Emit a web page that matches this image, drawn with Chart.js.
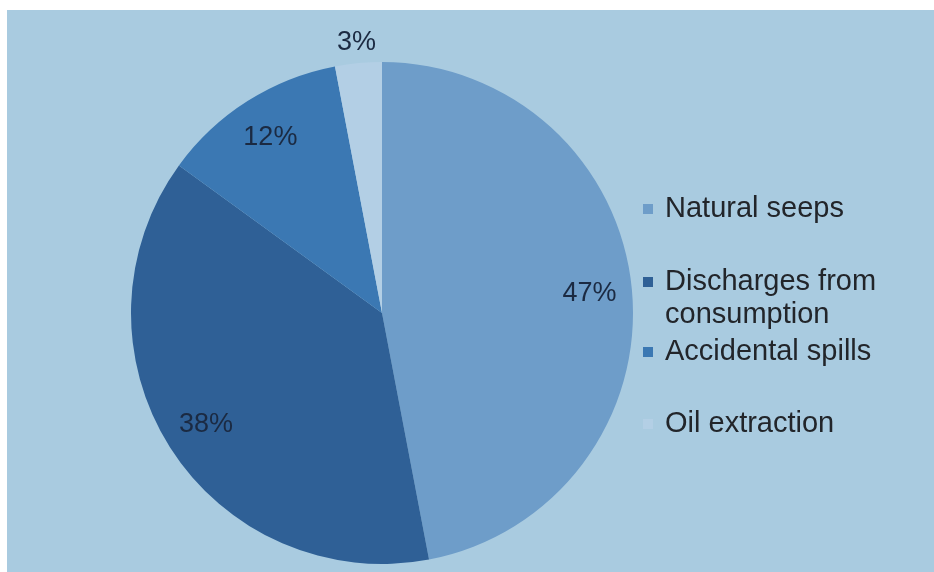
<!DOCTYPE html>
<html>
<head>
<meta charset="utf-8">
<script src="https://cdn.jsdelivr.net/npm/chart.js@4.4.1/dist/chart.umd.min.js"></script>
<style>
  html, body { margin: 0; padding: 0; background: #fff; }
  #wrap { position: relative; width: 934px; height: 572px; }
</style>
</head>
<body>
<div id="wrap"><canvas id="pie"></canvas></div>
<script>
// Sources of oil in the sea, share in percent
const categories = ["Natural seeps", "Discharges from consumption", "Accidental spills", "Oil extraction"];
const shares = [47, 38, 12, 3];
const sliceColors = ["#6e9dc9", "#2f6096", "#3b78b3", "#b3cfe5"];

const PANEL = "#a9cbe0";
const FONT = "'Liberation Sans', Arial, sans-serif";

// light blue panel behind everything
const panelBg = {
  id: "panelBg",
  beforeDraw(chart) {
    const ctx = chart.ctx;
    ctx.save();
    ctx.fillStyle = "#ffffff";
    ctx.fillRect(0, 0, chart.width, chart.height);
    ctx.fillStyle = PANEL;
    ctx.fillRect(7, 10, chart.width - 7, chart.height - 10);
    ctx.restore();
  }
};

// percent labels: inside for big slices, just outside for the tiny one
const sliceLabels = {
  id: "sliceLabels",
  afterDatasetsDraw(chart) {
    const ctx = chart.ctx;
    const meta = chart.getDatasetMeta(0);
    ctx.save();
    ctx.font = "27px " + FONT;
    ctx.fillStyle = "#1b2a42";
    ctx.textAlign = "center";
    ctx.textBaseline = "middle";
    meta.data.forEach((arc, i) => {
      const p = arc.getProps(["x", "y", "startAngle", "endAngle", "outerRadius"], true);
      const mid = (p.startAngle + p.endAngle) / 2;
      const r = shares[i] < 5 ? p.outerRadius + 21 : p.outerRadius * 0.83;
      ctx.fillText(shares[i] + "%", p.x + Math.cos(mid) * r, p.y + Math.sin(mid) * r);
    });
    ctx.restore();
  }
};

// legend to the right of the pie, long names wrap onto a second line
const sideLegend = {
  id: "sideLegend",
  afterDraw(chart) {
    const ctx = chart.ctx;
    const rowBase = [217, 290, 360, 432];
    const boxX = 643, textX = 665, maxW = 240, lineH = 33;
    ctx.save();
    ctx.font = "29px " + FONT;
    ctx.textBaseline = "alphabetic";
    categories.forEach((name, i) => {
      const words = name.split(" ");
      const lines = [];
      let cur = "";
      words.forEach(w => {
        const test = cur ? cur + " " + w : w;
        if (ctx.measureText(test).width > maxW && cur) {
          lines.push(cur);
          cur = w;
        } else {
          cur = test;
        }
      });
      lines.push(cur);
      const y = rowBase[i];
      ctx.fillStyle = sliceColors[i];
      ctx.fillRect(boxX, y - 13, 10, 10);
      ctx.fillStyle = "#22252a";
      lines.forEach((ln, k) => ctx.fillText(ln, textX, y + k * lineH));
    });
    ctx.restore();
  }
};

new Chart(document.getElementById("pie"), {
  type: "pie",
  data: {
    labels: categories,
    datasets: [{
      data: shares,
      backgroundColor: sliceColors,
      borderWidth: 0
    }]
  },
  options: {
    responsive: true,
    maintainAspectRatio: false,
    animation: false,
    layout: { padding: { left: 131, right: 301, top: 62, bottom: 8 } },
    plugins: {
      legend: { display: false },
      tooltip: { enabled: false }
    }
  },
  plugins: [panelBg, sliceLabels, sideLegend]
});
</script>
</body>
</html>
